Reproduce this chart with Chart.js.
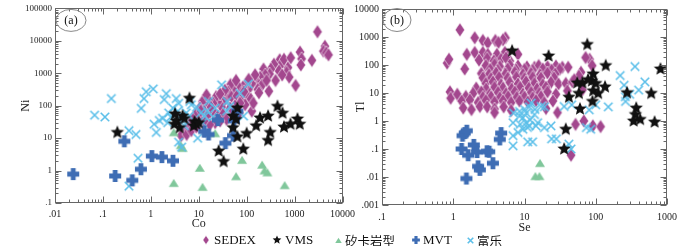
<!DOCTYPE html>
<html>
<head>
<meta charset="utf-8">
<script src="https://cdn.jsdelivr.net/npm/chart.js@4/dist/chart.umd.min.js"></script>
<style>
  html, body { margin: 0; padding: 0; background: #fff; }
  #wrap { position: relative; width: 700px; height: 246px; overflow: hidden; }
  #wrap canvas { position: absolute; top: 0; }
  #cA { left: 0; }
  #cB { left: 350px; }
  .lg { position: absolute; top: 233px; height: 14px; display: flex; align-items: center; white-space: nowrap;
        font: 13px "Liberation Serif", serif; color: #111; line-height: 14px; }
  .lg canvas { position: static !important; margin-right: 1px; }
  .cjk { font: 12.5px "Noto Sans CJK SC", sans-serif; }
</style>
</head>
<body>
<div id="wrap">
  <canvas id="cA" width="360" height="246"></canvas>
  <canvas id="cB" width="350" height="246"></canvas>
</div>
<script>
// tick labels
const xTicksA = [0.01, 0.1, 1, 10, 100, 1000, 10000];
const yTicksA = [0.1, 1, 10, 100, 1000, 10000, 100000];
const xTicksB = [0.1, 1, 10, 100, 1000];
const yTicksB = [0.001, 0.01, 0.1, 1, 10, 100, 1000, 10000];

const seriesNames = ['SEDEX', 'VMS', '矽卡岩型', 'MVT', '富乐'];

// panel (a): [Co, Ni]
const sedexA = [[3000,19000],[4300,6800],[4000,4800],[4600,4300],[5100,3700],
  [1300,4500],[1400,2800],[1350,1800],[2300,2500],[1050,420],
  [725,1500],[680,1070],[770,760],[490,2600],[525,1900],[470,1200],[550,890],
  [370,1900],[320,1350],[300,950],[225,1350],[245,890],[192,760],[163,540],[144,700],
  [290,280],[208,430],[170,320],[128,480],[109,320],[100,480],[83,380],[70,300],[64,430],
  [52,320],[46,450],[41,270],[38,170],[48,190],[62,200],[79,160],[100,210],[122,160],
  [128,68],[138,120],[93,107],[73,120],[57,100],[45,85],[33,135],[30,90],[25,135],[23,190],
  [20,120],[16,150],[14,107],[12,135],[10.5,85],[13,68],[16,54],[20,68],[25,48],[32,54],
  [38,38],[28,34],[22,30],[17,26],[13,34],[10,43],[8.6,54],[7.5,38],[6.6,28],[6,21],
  [5.3,17],[4.6,14],[4.3,12],[5.6,13],[7,17],[8.9,22],[14.5,215],[600,2700],[830,3000],
  [400,600],[260,600],[180,250],[150,900],[110,650],[60,600],[88,270],[35,300],[28,230],
  [18,90],[11,70],[52,70],[70,60]];
const vmsA = [[0.2,15],[3.1,27],[3.4,34],[4.6,48],[3.2,56],[4.0,21],[8.2,32],[9,27],[7.9,24],
  [6.4,170],[52,48],[64,85],[52,21],[64,11],[26,4],[33,1.9],[85,4.6],[100,14],[158,24],
  [190,42],[280,48],[310,15],[280,8.5],[440,96],[560,59],[600,22],[820,27],[1150,39],
  [1280,27],[60,38],[10,30],[5,40]];
const skarnA = [[3,15],[22,14],[4.6,4.9],[4.2,6],[10.5,1.2],[3,0.41],[12,0.31],[60,0.66],
  [80,2.1],[210,1.5],[235,1.0],[270,0.87],[620,0.35]];
const mvtA = [[0.024,0.78],[0.18,0.68],[0.41,0.5],[0.62,1.1],[0.28,8],[1.05,2.8],[1.7,2.6],
  [2.9,2.0],[13,16],[16,13],[25,36],[36,7],[52,12],[54,34],[64,68]];
const fulleA = [[0.067,51],[0.11,45],[0.15,166],[0.35,17],[0.49,13],[0.54,2.4],[0.35,0.33],
  [0.63,83],[0.72,166],[0.8,270],[1.12,330],[2.1,235],[1.9,155],[3.4,166],[3.8,118],[6.5,135],
  [16,135],[30,440],[108,470],[39,135],[1.17,27],[1.3,15],[1.76,41],[2.36,60],[2.25,30],
  [2.86,85],[3.65,68],[3.8,7.5],[4.4,5.3],[9.5,10],[5,24],[6.4,48],[7,107],[13.3,48],[38,68],
  [45,95],[73,240],[86,48],[15,70],[20,45],[9,90],[12,30],[5.5,60],[4.5,35],[22,85],[1.5,35],
  [2.6,45],[11,60]];

// panel (b): [Se, Tl]
const sedexB = [[1.24,1800],[2.0,940],[2.6,750],[3.05,620],[3.9,750],[5.4,940],[5.0,800],[4.3,640],
  [1.55,240],[2.0,280],[2.6,280],[3.05,240],[4.1,240],[5.3,280],[8.1,240],[4.7,160],[6.2,140],
  [0.82,117],[0.87,160],[1.45,72],[0.9,11],[0.92,6.5],[1.14,9],
  [2.3,150],[3.0,170],[3.7,140],[5.5,180],
  [2.86,95],[3.8,105],[4.5,88],[6.2,100],[8.1,92],[10.8,85],[13.8,83],[15.8,95],[21,87],[27.6,92],[34,83],[41,83],
  [3.3,70],[4.2,65],[5.8,72],[7.6,68],[10,70],[13,65],[18,72],[24,66],[31,70],
  [2.48,50],[3.18,46],[4.0,52],[5.4,48],[7.3,55],[9.5,46],[12.4,50],[16.6,45],[21,52],[27,48],[62,55],
  [2.6,35],[3.4,33],[4.4,36],[5.8,34],[7.7,37],[10,33],[13,36],[17,34],[26,35],
  [2.86,22],[3.6,25],[4.7,20],[6.2,24],[8.1,21],[10.5,25],[13.8,22],[18,20],[23.5,24],[30,21],[38,22],[47,25],
  [2.1,15],[2.9,14],[3.8,16],[5.0,15],[6.6,14],[8.7,16],[11.5,15],[15,14],[20,16],
  [1.9,9.7],[2.48,11],[3.25,9],[4.25,10.5],[5.5,9.5],[7.3,11],[9.5,9.2],[12.4,10.5],[16.2,9.7],[21,11],[27.6,9],[40,12],
  [1.5,7.5],[2.6,7],[3.4,7.3],[4.5,6.8],[5.9,7.4],[7.8,7],[10,7.2],[13,6.8],[17,7.4],
  [1.31,5.2],[1.71,5.7],[2.23,4.6],[2.86,5.4],[3.8,4.8],[5.0,5.3],[6.5,4.6],[8.5,5.2],[11.1,4.8],[14.5,5.4],[19,4.6],[25,5.2],
  [1.38,2.9],[1.8,2.55],[2.36,3.3],[3.0,3.2],[3.8,2.7],[5.1,3.2],[3.8,2.0],[6.5,2.4],[29,2.0],[20,2.8],
  [58,40],[65,13],[82,160],[89,95],[52,0.76],[68,1.0],[91,0.67],[117,0.63],[45,0.06],[72,185],[50,30]];
const vmsB = [[6.7,320],[21.8,210],[76,540],[138,95],[810,72],[92,48],[65,23],[88,27],[100,22],
  [58,9.7],[92,12],[135,16.6],[108,9.7],[42,7.1],[60,2.7],[90,5],[275,10.3],[600,9.7],[370,2.9],
  [360,1.7],[340,1.0],[420,1.14],[670,0.92],[38,0.51],[36,0.1],[55,23],[78,30]];
const skarnB = [[16.5,0.031],[14.2,0.0106],[16.2,0.0106]];
const mvtB = [[1.45,0.37],[1.35,0.3],[1.55,0.45],[1.31,0.1],[1.94,0.14],[1.62,0.06],[2.16,0.078],
  [2.98,0.083],[3.2,0.08],[3.6,0.031],[2.23,0.024],[2.36,0.018],[1.53,0.0088],[4.7,0.37],[4.5,0.22]];
const fulleB = [[6.9,0.87],[6.9,0.3],[6.9,0.13],[7,1.95],[8.5,2.2],[9.5,1.3],[10.6,1.95],[11.7,3.2],
  [12.4,4.4],[8.7,0.76],[10.6,0.87],[11.7,0.67],[9.5,0.51],[8.1,0.39],[11.1,0.18],[13,0.18],[15.3,0.87],
  [17.1,3.3],[19,3.2],[19,0.58],[23.5,0.67],[24,0.23],[28,0.23],[36,3.3],[42,0.15],[45,0.1],[46,3.8],
  [74,0.58],[85,0.51],[81,2.5],[100,3.8],[150,3.2],[220,42],[250,19],[260,7.4],[262,5],[355,88],
  [400,12.7],[490,25],[8.5,1.5],[13.8,1.7],[12,1.1],[14,2.6],[10,2.6],[11,0.59],[14.5,0.67],[300,9]];

// marker look
const styles = [
  { shape: 'diamond', color: '#a3478e', size: 14 },
  { shape: 'star', color: '#111111', size: 14 },
  { shape: 'triangle', color: '#80c79b', size: 10 },
  { shape: 'plus', color: '#3e6db4', size: 12 },
  { shape: 'cross', color: '#5bbfe9', size: 10 }
];

function makeMarker(shape, s, color) {
  const c = document.createElement('canvas');
  c.width = Math.ceil(s + 4); c.height = Math.ceil(s + 4);
  const g = c.getContext('2d');
  const cx = c.width / 2, cy = c.height / 2, r = s / 2;
  g.fillStyle = color; g.strokeStyle = color;
  g.beginPath();
  if (shape === 'diamond') {
    const w = r * 0.68;
    g.moveTo(cx, cy - r); g.lineTo(cx + w, cy); g.lineTo(cx, cy + r); g.lineTo(cx - w, cy); g.closePath();
    g.fill();
    g.strokeStyle = 'rgba(255,255,255,0.7)'; g.lineWidth = 0.8; g.stroke();
  } else if (shape === 'star') {
    for (let i = 0; i < 10; i++) {
      const a = -Math.PI / 2 + i * Math.PI / 5;
      const rr = i % 2 ? r * 0.45 : r;
      g.lineTo(cx + rr * Math.cos(a), cy + rr * Math.sin(a));
    }
    g.closePath(); g.fill();
  } else if (shape === 'triangle') {
    g.moveTo(cx, cy - r * 0.85); g.lineTo(cx + r, cy + r * 0.75); g.lineTo(cx - r, cy + r * 0.75);
    g.closePath(); g.fill();
  } else if (shape === 'plus') {
    const t = r * 0.4;
    g.rect(cx - t, cy - r, 2 * t, 2 * r); g.rect(cx - r, cy - t, 2 * r, 2 * t); g.fill();
  } else {
    const q = r * 0.85;
    g.lineWidth = 1.6;
    g.moveTo(cx - q, cy - q); g.lineTo(cx + q, cy + q);
    g.moveTo(cx + q, cy - q); g.lineTo(cx - q, cy + q); g.stroke();
  }
  return c;
}

const fmt = v => (v < 1 ? String(v).replace(/^0/, '') : String(v));
const serif = '"Liberation Serif", "Times New Roman", serif';

function logSteps(min, max) {
  const out = [];
  for (let e = Math.floor(Math.log10(min)); e <= Math.ceil(Math.log10(max)); e++) {
    for (let k = 1; k <= 9; k++) {
      const v = k * Math.pow(10, e);
      if (v >= min * 0.999 && v <= max * 1.001) out.push([v, k === 1]);
    }
  }
  return out;
}

// frame + inward ticks on all four sides
const frameTicks = {
  id: 'frameTicks',
  afterDatasetsDraw(chart) {
    const { ctx, chartArea: a, scales: { x, y } } = chart;
    const L = Math.round(a.left) + 0.5, R = Math.round(a.right) - 0.5;
    const T = Math.round(a.top) + 0.5, B = Math.round(a.bottom) - 0.5;
    ctx.save();
    ctx.strokeStyle = '#666';
    ctx.lineWidth = 1;
    ctx.strokeRect(L, T, R - L, B - T);
    ctx.beginPath();
    logSteps(x.min, x.max).forEach(([v, major]) => {
      const px = Math.round(x.getPixelForValue(v)) + 0.5, len = major ? 6 : 3;
      ctx.moveTo(px, B); ctx.lineTo(px, B - len);
      ctx.moveTo(px, T); ctx.lineTo(px, T + len);
    });
    logSteps(y.min, y.max).forEach(([v, major]) => {
      const py = Math.round(y.getPixelForValue(v)) + 0.5, len = major ? 6 : 3;
      ctx.moveTo(L, py); ctx.lineTo(L + len, py);
      ctx.moveTo(R, py); ctx.lineTo(R - len, py);
    });
    ctx.stroke();
    ctx.restore();
  }
};

const panelTag = {
  id: 'panelTag',
  afterDraw(chart, args, o) {
    const { ctx, chartArea: a } = chart;
    const cx = a.left + o.dx, cy = a.top + o.dy;
    ctx.save();
    ctx.beginPath();
    ctx.ellipse(cx, cy, o.rx, o.ry, 0, 0, Math.PI * 2);
    ctx.strokeStyle = '#888'; ctx.lineWidth = 1; ctx.stroke();
    ctx.fillStyle = '#111';
    ctx.font = '12px ' + serif;
    ctx.textAlign = 'center'; ctx.textBaseline = 'middle';
    ctx.fillText(o.text, cx, cy + 0.5);
    ctx.restore();
  }
};

function logAxis(ticksArr, title, o) {
  return {
    type: 'logarithmic',
    min: ticksArr[0],
    max: ticksArr[ticksArr.length - 1],
    afterBuildTicks: s => { s.ticks = ticksArr.map(v => ({ value: v })); },
    afterFit: s => { if (o.width) s.width = o.width; if (o.height) s.height = o.height; },
    grid: { display: false, drawTicks: false },
    border: { display: false },
    ticks: { autoSkip: false, maxRotation: 0, padding: o.pad, color: '#222',
             font: { family: serif, size: o.fs }, callback: v => fmt(v) },
    title: { display: true, text: title, color: '#222', font: { family: serif, size: 12 }, padding: o.tpad }
  };
}

function datasets(list) {
  const order = [5, 1, 4, 2, 3];
  return list.map((pts, i) => ({
    label: seriesNames[i],
    data: pts.map(p => ({ x: p[0], y: p[1] })),
    pointStyle: makeMarker(styles[i].shape, styles[i].size, styles[i].color),
    pointRadius: 6,
    pointHoverRadius: 6,
    showLine: false,
    order: order[i]
  }));
}

function build(id, sets, xT, yT, xTitle, yTitle, o) {
  return new Chart(document.getElementById(id), {
    type: 'scatter',
    data: { datasets: datasets(sets) },
    options: {
      responsive: false,
      animation: false,
      devicePixelRatio: 1,
      layout: { padding: o.padding },
      plugins: { legend: { display: false }, tooltip: { enabled: false }, panelTag: o.tag },
      scales: {
        x: logAxis(xT, xTitle, o.x),
        y: logAxis(yT, yTitle, o.y)
      }
    },
    plugins: [frameTicks, panelTag]
  });
}

build('cA', [sedexA, vmsA, skarnA, mvtA, fulleA], xTicksA, yTicksA, 'Co', 'Ni', {
  padding: { top: 5, right: 17, left: 0, bottom: 0 },
  x: { height: 43, pad: 5, fs: 10, tpad: { top: 0, bottom: 15 } },
  y: { width: 55, pad: 3, fs: 9, tpad: { top: 19, bottom: 0 } },
  tag: { text: '(a)', dx: 16, dy: 12, rx: 15, ry: 11 }
});
build('cB', [sedexB, vmsB, skarnB, mvtB, fulleB], xTicksB, yTicksB, 'Se', 'Tl', {
  padding: { top: 5, right: 33, left: 0, bottom: 0 },
  x: { height: 41, pad: 6, fs: 10, tpad: { top: 0, bottom: 11 } },
  y: { width: 32, pad: 3, fs: 10, tpad: { top: 4, bottom: 0 } },
  tag: { text: '(b)', dx: 15, dy: 11, rx: 14, ry: 11.5 }
});

// legend below both panels
const legendLeft = [199, 270, 333, 410, 465];
const wrap = document.getElementById('wrap');
seriesNames.forEach((name, i) => {
  const item = document.createElement('div');
  item.className = 'lg';
  item.style.left = legendLeft[i] + 'px';
  const st = styles[i];
  item.appendChild(makeMarker(st.shape, st.size * 0.65, st.color));
  const t = document.createElement('span');
  t.textContent = name;
  if (/[\u4e00-\u9fff]/.test(name)) t.className = 'cjk';
  item.appendChild(t);
  wrap.appendChild(item);
});
</script>
</body>
</html>
